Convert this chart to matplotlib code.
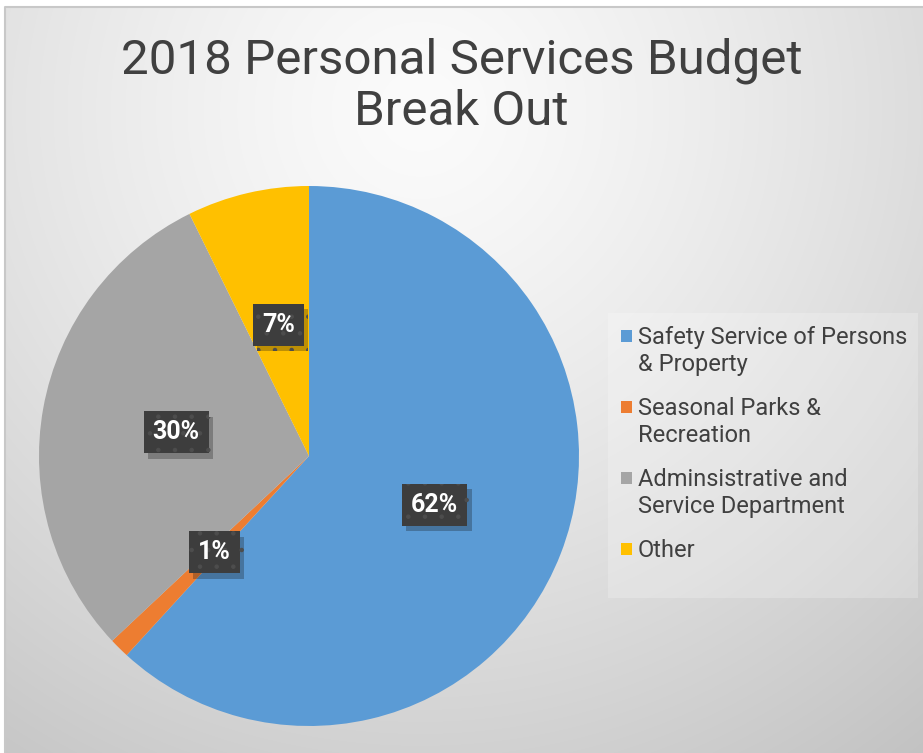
import numpy as np
import matplotlib.pyplot as plt
import matplotlib.patheffects as pe

categories = ['Safety Service of Persons\n& Property',
              'Seasonal Parks &\nRecreation',
              'Adminsistrative and\nService Department',
              'Other']
shares = [61.8, 1.2, 29.7, 7.3]
colors = ['#5b9bd5', '#ed7d31', '#a5a5a5', '#ffc000']
title = '2018 Personal Services Budget\nBreak Out'

plt.rcParams['font.family'] = ['Roboto', 'DejaVu Sans']
plt.rcParams['hatch.linewidth'] = 0.8
W, H = 923, 753

fig = plt.figure(figsize=(W / 100, H / 100), dpi=100)

# radial gradient background (pixel units)
bg = fig.add_axes([0, 0, 1, 1])
yy, xx = np.mgrid[0:H, 0:W]
d = np.sqrt((xx - 420) ** 2 + (yy - 110) ** 2) / 820
shade = np.clip(0.985 - 0.225 * d ** 1.3, 0.74, 1)
img = np.dstack([shade] * 3)
img[:7, :] = 1
img[:, :5] = 1
bg.imshow(img, extent=[0, W, H, 0], aspect='auto')
bg.set_xlim(0, W)
bg.set_ylim(H, 0)
bg.plot([5, 5, W], [H, 7, 7], color='#c8c8c8', linewidth=1.5)
bg.set_axis_off()

ax = fig.add_axes([39 / W, 27 / H, 540 / W, 540 / H])
wedges, texts, autotexts = ax.pie(shares, colors=colors, startangle=90, counterclock=False,
                                  radius=1, autopct=lambda p: f'{p:.0f}%', pctdistance=0.5,
                                  wedgeprops=dict(linewidth=0))
for t in autotexts:
    t.set_color('white')
    t.set_fontsize(18)
    t.set_fontweight('bold')
    t.set_bbox(dict(boxstyle='square,pad=0.36', facecolor='#3d3d3d', edgecolor='#4d4d4d',
                    hatch='.', linewidth=0))
    t.get_bbox_patch().set_path_effects([pe.SimplePatchShadow(offset=(3, -4), alpha=0.28), pe.Normal()])
ax.set_xlim(-1, 1)
ax.set_ylim(-1, 1)
ax.set_aspect('equal')

fig.text(0.5, 1 - 86 / H, title, ha='center', va='center', fontsize=35.5, color='#404040',
         linespacing=1.15)

# legend drawn by hand: box, square markers, wrapped labels
bg.add_patch(plt.Rectangle((608, 313), 310, 285, facecolor='white', alpha=0.22, linewidth=0))
base = 344
for lab, col in zip(categories, colors):
    bg.add_patch(plt.Rectangle((621, base - 14), 11, 12, facecolor=col, linewidth=0))
    for k, line in enumerate(lab.split('\n')):
        bg.text(638, base + 27 * k, line, fontsize=17, color='#404040', va='baseline', ha='left')
    base += 71

fig.savefig('out.png', dpi=100)
